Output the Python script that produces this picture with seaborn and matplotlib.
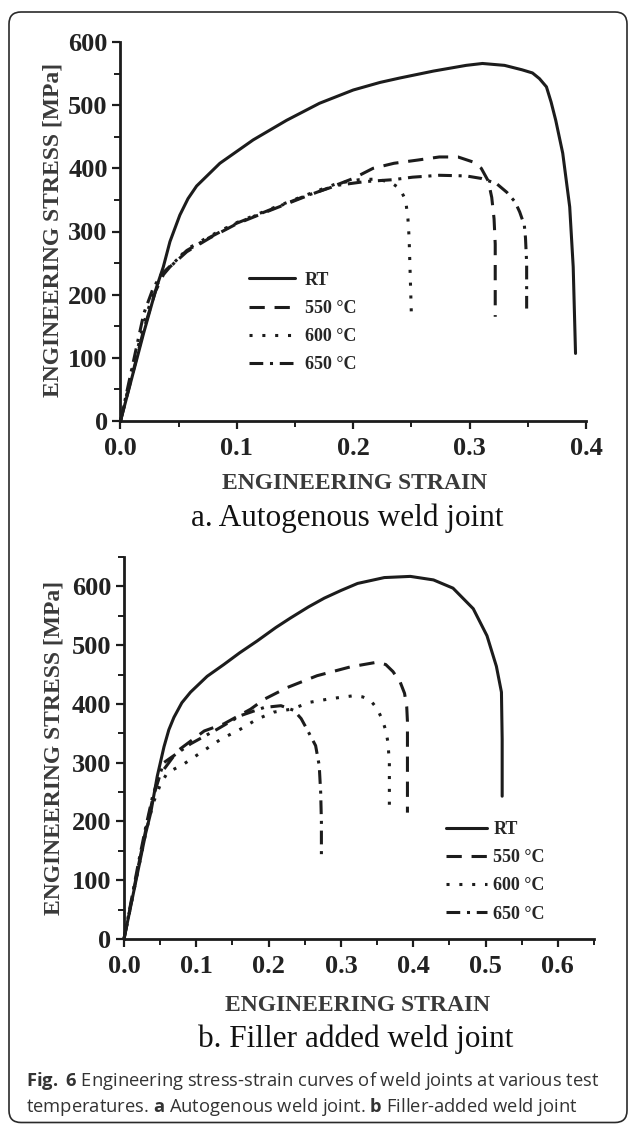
import numpy as np
import pandas as pd
import seaborn as sns
import matplotlib
matplotlib.use("Agg")
import matplotlib.pyplot as plt
from matplotlib.patches import FancyBboxPatch
from matplotlib.transforms import IdentityTransform
from matplotlib.ticker import MultipleLocator, FormatStrFormatter

# ---------------- data: panel a (autogenous) ----------------
a_rt_x = [0, 0.01, 0.02, 0.031, 0.0368, 0.0425, 0.051, 0.058, 0.0654, 0.0854, 0.114, 0.1427,
          0.171, 0.2, 0.223, 0.24, 0.269, 0.297, 0.311, 0.33, 0.345, 0.354, 0.36, 0.366,
          0.37, 0.374, 0.38, 0.386, 0.389, 0.391]
a_rt_y = [0, 70, 140, 212, 244, 284, 326, 352, 372, 408, 445, 476,
          503, 524, 536, 543, 554, 563, 566, 563, 556, 551, 542, 529,
          505, 476, 424, 339, 244, 107]
a_550_x = [0, 0.01, 0.02, 0.03, 0.037, 0.0425, 0.057, 0.077, 0.0997, 0.128, 0.157, 0.186,
           0.2, 0.217, 0.235, 0.255, 0.274, 0.29, 0.303, 0.31, 0.316, 0.319, 0.321, 0.322,
           0.322]
a_550_y = [0, 72, 145, 205, 232, 244, 268, 290, 312, 333, 354, 374,
           384, 400, 408, 413, 418, 418, 410, 400, 380, 354, 320, 280,
           165]
a_600_x = [0, 0.01, 0.02, 0.03, 0.038, 0.0425, 0.057, 0.077, 0.0997, 0.128, 0.157, 0.186,
           0.205, 0.22, 0.232, 0.24, 0.245, 0.247, 0.248, 0.25]
a_600_y = [0, 78, 155, 212, 236, 243, 272, 293, 314, 335, 356, 376,
           382, 383, 378, 368, 350, 320, 290, 165]
a_650_x = [0, 0.01, 0.02, 0.028, 0.035, 0.0425, 0.057, 0.077, 0.0997, 0.128, 0.157, 0.186,
           0.21, 0.234, 0.251, 0.274, 0.297, 0.31, 0.323, 0.332, 0.339, 0.343, 0.347, 0.348,
           0.349, 0.349]
a_650_y = [0, 85, 170, 210, 232, 245, 270, 291, 313, 334, 355, 373,
           379, 382, 386, 389, 388, 384, 376, 362, 347, 331, 310, 290,
           250, 178]

# ---------------- data: panel b (filler added) ----------------
b_rt_x = [0, 0.01, 0.02, 0.03, 0.037, 0.046, 0.0553, 0.062, 0.069, 0.08, 0.092, 0.115, 0.138,
          0.16, 0.184, 0.21, 0.23, 0.255, 0.277, 0.3, 0.323, 0.36, 0.396, 0.428, 0.455,
          0.483, 0.502, 0.515, 0.522, 0.523, 0.523]
b_rt_y = [0, 60, 120, 180, 215, 277, 327, 356, 377, 402, 420, 447, 467,
          487, 507, 530, 546, 565, 580, 593, 605, 615, 617, 611, 597,
          562, 516, 464, 420, 340, 243]
b_550_x = [0, 0.01, 0.02, 0.03, 0.04, 0.05, 0.074, 0.111, 0.138, 0.175, 0.194, 0.226, 0.267,
           0.313, 0.35, 0.362, 0.372, 0.382, 0.388, 0.391, 0.392, 0.392]
b_550_y = [0, 62, 125, 185, 240, 280, 320, 354, 366, 391, 408, 428, 448,
           463, 471, 467, 455, 437, 418, 395, 370, 215]
b_600_x = [0, 0.01, 0.02, 0.03, 0.04, 0.05, 0.06, 0.083, 0.106, 0.134, 0.161, 0.184, 0.207,
           0.231, 0.258, 0.286, 0.318, 0.33, 0.341, 0.35, 0.357, 0.362, 0.365, 0.367, 0.367]
b_600_y = [0, 60, 120, 180, 230, 262, 283, 298, 317, 340, 357, 374, 386,
           391, 403, 409, 414, 412, 406, 392, 374, 355, 335, 300, 215]
b_650_x = [0, 0.01, 0.02, 0.03, 0.04, 0.055, 0.092, 0.129, 0.161, 0.194, 0.217, 0.235, 0.245,
           0.253, 0.265, 0.27, 0.272, 0.273, 0.273]
b_650_y = [0, 65, 130, 190, 245, 300, 332, 357, 380, 394, 397, 389, 375,
           357, 329, 295, 249, 200, 135]

labels = ["RT", "550 °C", "600 °C", "650 °C"]
xlabel = "ENGINEERING STRAIN"
ylabel = "ENGINEERING STRESS [MPa]"
title_a = "a. Autogenous weld joint"
title_b = "b. Filler added weld joint"
caption1 = r"$\bf{Fig.}$ $\bf{6}$ Engineering stress-strain curves of weld joints at various test"
caption2 = r"temperatures. $\bf{a}$ Autogenous weld joint. $\bf{b}$ Filler-added weld joint"

# ---------------- style ----------------
sns.set_style("ticks")
SERIF = ["Liberation Serif", "DejaVu Serif"]
plt.rcParams["font.family"] = SERIF
plt.rcParams["mathtext.fontset"] = "custom"
plt.rcParams["mathtext.rm"] = "Open Sans"
plt.rcParams["mathtext.bf"] = "Open Sans:bold"

INK = "#1c1c1c"
styles = ["-", (0, (5, 3.2)), (0, (1, 3.2)), (0, (4.5, 2.2, 1, 2.2))]

W, H = 629, 1125
fig = plt.figure(figsize=(W / 100, H / 100), dpi=100)
fig.patch.set_facecolor("white")


def px_axes(x0, x1, ytop, ybot):
    return [x0 / W, 1 - ybot / H, (x1 - x0) / W, (ybot - ytop) / H]


axA = fig.add_axes(px_axes(120.5, 586, 42, 421))
axB = fig.add_axes(px_axes(124, 594, 557, 939))

panel_data = [
    (axA, [(a_rt_x, a_rt_y), (a_550_x, a_550_y), (a_600_x, a_600_y), (a_650_x, a_650_y)]),
    (axB, [(b_rt_x, b_rt_y), (b_550_x, b_550_y), (b_600_x, b_600_y), (b_650_x, b_650_y)]),
]

for ax, series in panel_data:
    for (xs, ys), lab, ls in zip(series, labels, styles):
        df = pd.DataFrame({"strain": xs, "stress": ys})
        sns.lineplot(data=df, x="strain", y="stress", ax=ax, sort=False, estimator=None,
                     color=INK, linewidth=2.2, linestyle=ls, label=lab)
        ln = ax.lines[-1]
        ln.set_clip_on(False)
        ln.set_solid_joinstyle("round")
        ln.set_dash_joinstyle("round")
    sns.despine(ax=ax)
    for sp in ("left", "bottom"):
        ax.spines[sp].set_linewidth(2.0)
        ax.spines[sp].set_color(INK)
    ax.xaxis.set_major_locator(MultipleLocator(0.1))
    ax.xaxis.set_minor_locator(MultipleLocator(0.05))
    ax.yaxis.set_major_locator(MultipleLocator(100))
    ax.yaxis.set_minor_locator(MultipleLocator(50))
    ax.xaxis.set_major_formatter(FormatStrFormatter("%.1f"))
    ax.yaxis.set_major_formatter(FormatStrFormatter("%d"))
    ax.tick_params(which="major", direction="out", length=5.8, width=1.6, color=INK,
                   labelsize=19, labelcolor="#222222")
    ax.tick_params(which="minor", direction="out", length=4.0, width=1.4, color=INK)
    ax.tick_params(axis="x", which="major", pad=6.0)
    ax.tick_params(axis="y", which="major", pad=3.4)
    for t in ax.get_xticklabels() + ax.get_yticklabels():
        t.set_fontweight("bold")
    ax.set_xlabel(xlabel, fontsize=17, fontweight="bold", color="#3a3a3a")
    ax.set_ylabel(ylabel, fontsize=17, fontweight="bold", color="#3a3a3a")
    ax.xaxis.label.set_va("center")
    ax.yaxis.label.set_va("center")
    ax.set_facecolor("white")

axA.set_xlim(0, 0.4)
axA.set_ylim(0, 600)
axB.set_xlim(0, 0.65)
axB.set_ylim(0, 650)

axA.xaxis.set_label_coords(0.503, -0.1636)
axA.yaxis.set_label_coords(-0.145, 0.505)
axB.xaxis.set_label_coords(0.498, -0.1738)
axB.yaxis.set_label_coords(-0.149, 0.50)

leg_font = {"family": SERIF, "weight": "bold", "size": 13}
h, l = axA.get_legend_handles_labels()
axA.legend(h, l, loc="upper left", bbox_to_anchor=(0.276, 0.394), frameon=False,
           borderpad=0, borderaxespad=0, handlelength=2.55, handletextpad=0.55,
           labelspacing=0.62, prop=leg_font)
h, l = axB.get_legend_handles_labels()
axB.legend(h, l, loc="upper left", bbox_to_anchor=(0.685, 0.309), frameon=False,
           borderpad=0, borderaxespad=0, handlelength=2.3, handletextpad=0.33,
           labelspacing=0.62, prop=leg_font)

# panel titles
fig.text(347.5 / W, 1 - 526 / H, title_a, fontsize=22.5, ha="center", va="baseline",
         color="#111111", family=SERIF)
fig.text(356 / W, 1 - 1046.5 / H, title_b, fontsize=22.5, ha="center", va="baseline",
         color="#111111", family=SERIF)

# caption
cap_font = ["Open Sans", "DejaVu Sans"]
fig.text(26 / W, 1 - 1086.5 / H, caption1, fontsize=13.2, ha="left", va="baseline",
         color="#333333", family=cap_font)
fig.text(26 / W, 1 - 1112.5 / H, caption2, fontsize=13.2, ha="left", va="baseline",
         color="#333333", family=cap_font)

# rounded frame
frame = FancyBboxPatch((9, 2.5), 618, 1110.5, boxstyle="round,pad=0,rounding_size=12",
                       transform=IdentityTransform(), fill=False, edgecolor="#2a2a2a",
                       linewidth=1.2)
fig.add_artist(frame)

fig.savefig("out.png", dpi=100, facecolor="white")
